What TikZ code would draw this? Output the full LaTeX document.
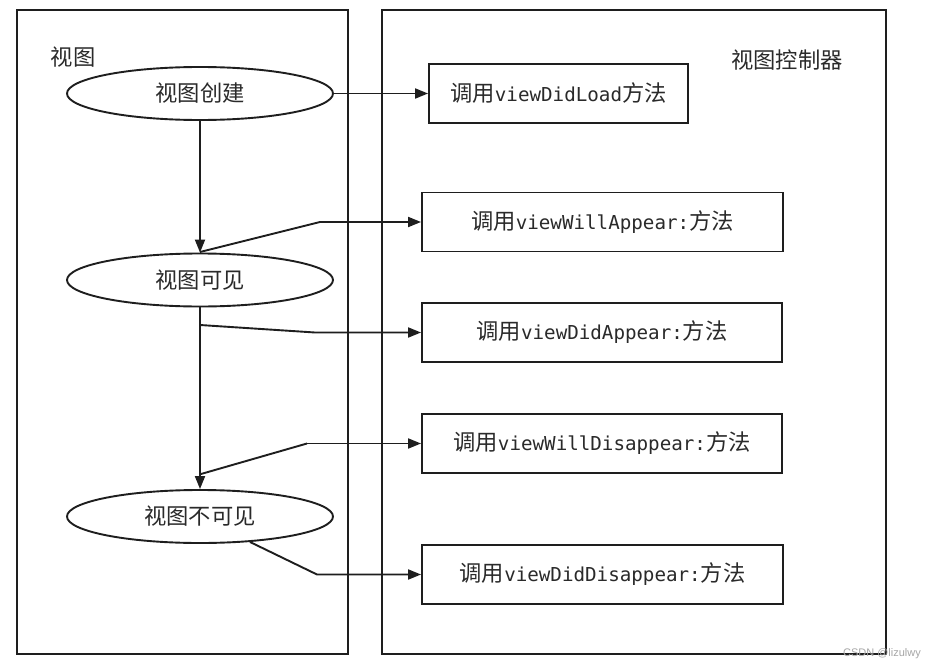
\documentclass[tikz,border=0pt]{standalone}
\usepackage{fontspec}
\usetikzlibrary{shapes.geometric,arrows.meta}
\newfontfamily\cjk{Noto Sans CJK SC}
\newfontfamily\code{DejaVu Sans Mono}
\newfontfamily\wmfont{Liberation Sans}
\definecolor{ink}{HTML}{1E1E1E}
\definecolor{txt}{HTML}{2A2A2A}
\newcommand{\cn}[1]{{\cjk\fontsize{22.3}{26}\selectfont #1}}
\newcommand{\cd}[1]{{\code\fontsize{19.2}{24}\selectfont #1}}
\begin{document}
\begin{tikzpicture}[x=1pt,y=-1pt,
  frame/.style={draw=ink,line width=1.9pt,fill=none},
  oval/.style={ellipse,draw=ink,line width=1.9pt,minimum width=266pt,minimum height=53pt,inner sep=0pt,text=txt},
  callbox/.style={rectangle,draw=ink,line width=1.9pt,minimum height=59pt,inner sep=0pt,text=txt},
  lbl/.style={text=txt,inner sep=0pt},
  arr/.style={draw=ink,line width=1.9pt,-{Triangle[length=13pt,width=10pt]}},
  conn/.style={draw=ink,line width=1.9pt}]
\useasboundingbox (0,0) rectangle (929,669);
\fill[white] (0,0) rectangle (929,669);
% frames
\node[frame,minimum width=331pt,minimum height=644pt,inner sep=0pt] (vf) at (182.5,332) {};
\node[frame,minimum width=504pt,minimum height=644pt,inner sep=0pt] (cf) at (634,332) {};
% labels
\node[lbl] (lv) at (73,57) {\cn{视图}};
\node[lbl] (lc) at (787,60) {\cn{视图控制器}};
% ellipses
\node[oval] (e1) at (200,93.5) {\cn{视图创建}};
\node[oval] (e2) at (200,280) {\cn{视图可见}};
\node[oval] (e3) at (200,516.5) {\cn{视图不可见}};
% boxes
\node[callbox,minimum width=259pt] (b1) at (558.5,93.5) {\cn{调用}\cd{viewDidLoad}\cn{方法}};
\node[callbox,minimum width=361pt] (b2) at (602.5,222) {\cn{调用}\cd{viewWillAppear:}\cn{方法}};
\node[callbox,minimum width=360pt] (b3) at (602,332.5) {\cn{调用}\cd{viewDidAppear:}\cn{方法}};
\node[callbox,minimum width=360pt] (b4) at (602,443.5) {\cn{调用}\cd{viewWillDisappear:}\cn{方法}};
\node[callbox,minimum width=361pt] (b5) at (602.5,574.5) {\cn{调用}\cd{viewDidDisappear:}\cn{方法}};
% watermark
\node[inner sep=0pt,text=gray!70] (wm) at (882,654) {\wmfont\fontsize{11}{13}\selectfont CSDN @lizulwy};
% bend points
\coordinate (k2) at (320,222);
\coordinate (s3) at (200,325);
\coordinate (k3) at (315,332.5);
\coordinate (s4) at (201,474);
\coordinate (k4) at (307,443.5);
\coordinate (k5) at (317,574.5);
\coordinate (s2) at (200,252);
% connectors
\draw[arr] (e1.east) -- (b1.west);
\draw[arr] (e1.south) -- (e2.north);
\draw[arr] (e2.south) -- (e3.north);
\draw[conn] (s2) -- (k2);
\draw[arr] (k2) -- (b2.west);
\draw[arr] (s3) -- (k3) -- (b3.west);
\draw[conn] (s4) -- (k4);
\draw[arr] (k4) -- (b4.west);
\draw[arr] (e3.-27) -- (k5) -- (b5.west);
\end{tikzpicture}
\end{document}
